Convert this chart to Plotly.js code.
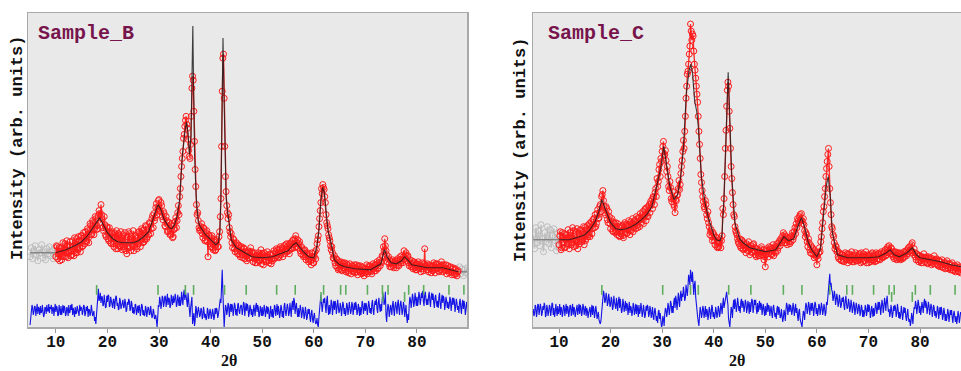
<!DOCTYPE html>
<html>
<head>
<meta charset="utf-8">
<script src="https://cdn.plot.ly/plotly-3.0.1.min.js"></script>
<style>html,body{margin:0;padding:0;background:#fff;}#chart{width:961px;height:371px;}</style>
</head>
<body>
<div id="chart"></div>
<script>
// ---------------- DATA (2θ in degrees, intensity in arbitrary units) ----------------
var obsStart = 10.0, obsStep = 0.25;     // observed scan (two interleaved halves, 2nd offset by half a step)
var diffStart = 5.0, diffStep = 0.25;    // difference curve (two interleaved halves)

// Sample_B observed intensity, 10.000 .. 88.000
var obsB = [
70,80,73,66, 79,71,77,83, 70,82,75,85, 76,86,71,82, 88,77,86,75, 91,81,89,95, 85,96,90,101, 93,104,98,108,
101,111,113,122, 108,96,102,90, 99,86,94,83, 93,80,90,96, 78,91,81,89, 92,78,87,73, 80,93,76,88, 96,82,89,78,
83,93,86,96, 97,87,100,90, 92,103,98,111, 113,109,123,118, 127,115,121,107, 113,100,106,96, 104,93,101,90,
98,109,106,121, 130,150,168,188, 200,210,198,176, 168,210,250,215, 157,122,114,99, 97,103,89,98, 87,96,70,91,
80,91,77,87, 77,87,80,95, 128,235,272,180, 135,114,112,95, 93,79,87,75, 84,73,81,70, 80,69,78,71, 66,76,69,79,
75,65,74,68, 64,74,67,77, 73,62,71,65, 75,66,72,63, 66,76,69,78, 77,69,80,74, 70,81,76,83, 81,73,84,78,
87,79,91,84, 79,85,73,78, 70,77,67,74, 65,73,62,70, 64,75,77,87, 100,116,138,142, 137,124,104,98, 89,81,80,69,
71,61,67,57, 58,65,56,63, 64,55,62,54, 63,53,61,56, 54,62,52,60, 61,53,59,51, 54,62,55,60, 61,53,63,56,
56,65,59,67, 65,71,80,88, 76,65,70,60, 60,67,59,66, 59,68,61,70, 71,64,76,72, 66,71,61,64, 66,58,64,57,
57,65,59,55, 64,56,78,61, 63,55,61,54, 56,64,54,62, 63,55,61,65, 55,62,57,53, 61,54,60,52, 59,52,58,51, 56
];
// Sample_B observed intensity, 10.125 .. 87.875
var obsB2 = [
81,68,79,75, 67,84,70,74, 86,69,80,71, 72,80,89,74, 74,90,79,91, 80,94,83,86, 98,84,103,92, 106,92,110,97,
98,116,104,112, 99,110,92,100, 88,99,84,95, 83,94,78,88, 93,80,95,77, 80,94,76,90, 95,79,90,82, 76,91,80,94,
95,80,98,84, 85,101,88,97, 104,93,108,99, 106,119,112,126, 116,124,110,115, 101,110,95,104, 92,102,89,97,
105,99,114,112, 138,160,175,192, 206,202,187,170, 182,238,246,185, 140,112,106,96, 100,93,99,86, 94,85,92,83,
89,79,85,76, 85,80,90,110, 180,268,228,150, 121,108,99,90, 84,88,78,82, 76,82,72,79, 72,79,68,75, 74,68,75,70,
69,73,64,71, 71,66,73,63, 67,74,66,72, 70,64,73,68, 73,68,75,71, 70,78,72,79, 78,73,82,75, 76,83,79,86,
82,88,80,87, 83,76,80,72, 76,70,73,68, 71,66,74,64, 70,68,83,91, 108,124,133,139, 130,112,101,92, 86,77,74,68,
64,68,59,65, 62,57,64,59, 57,63,56,60, 58,61,55,62, 59,55,61,56, 55,60,54,58, 58,53,61,57, 55,60,58,62,
62,58,64,61, 64,70,76,81, 72,68,63,66, 65,61,64,62, 66,62,67,64, 66,70,68,74, 70,64,67,60, 60,65,59,63,
63,58,62,60, 58,63,60,57, 57,62,58,61, 61,57,63,58, 56,60,57,62, 60,56,62,58, 56,59,55,58, 54,57,53,55
];
// Sample_B excluded-region points
var exclB_x = [5,5.25,5.5,5.75,6,6.25,6.5,6.75,7,7.25,7.5,7.75,8,8.25,8.5,8.75,9,9.25,9.5,9.75, 88.25,88.5,88.75,89,89.25,89.5,89.75];
var exclB_y = [70,79,68,76,81,72,66,77,74,82,69,75,67,78,73,80,71,76,68,79, 60,53,58,51,57,54,59];
// Sample_B calculated profile
var calcB_x = [10,12,14,15,16,17,18,18.5,19,20,21,22,23,25,26,27,28,29,29.8,30.3,31,32,32.5,33,33.5,34,34.5,35,35.3,35.6,35.9,36.2,36.4,36.55,36.7,36.9,37.2,37.6,38,39,40,41,41.5,41.8,42,42.2,42.4,42.6,42.8,43,43.3,43.7,44,45,46,48,50,52,53,54,55,56,56.6,57.2,58,59,60,60.6,61,61.4,61.7,62,62.4,62.8,63.3,64,65,66,68,70,71,72,73,73.7,74.2,75,76,77,77.6,78.2,79,80,82,85,88];
var calcB_y = [74,77,82,85,90,97,105,109,104,94,88,85,84,84,86,90,95,110,122,118,107,99,98,102,110,127,170,194,204,195,172,190,260,300,240,170,130,105,100,92,87,82,84,95,130,220,288,230,160,130,115,100,87,79,76,70,69,70,72,74,76,82,84,80,75,70,69,80,97,127,139,135,115,95,85,67,62,60,58,57,57,60,63,77,70,64,63,66,70,67,62,61,59,59,55];
var calcBex_x = [[5,10],[88,89.7]];
var calcBex_y = [[74,74],[55,55]];
// Sample_B difference curve, 5.000 .. 89.750
var diffB = [
2,14,19,15, 20,16,13,18, 21,15,17,12, 19,22,16,14, 18,13,20,16, 15,19,12,17, 21,16,14,19, 13,18,22,15,
17,12,16,20, 14,18,11,16, 19,15,21,13, 16,10,17,14, 18,13,6,3, 26,38,28,24, 30,22,27,20, 25,31,21,26,
19,28,23,30, 24,18,26,21, 27,20,24,17, 22,26,18,23, 20,15,22,17, 14,19,16,21, 17,12,18,15, 19,13,16,11,
15,9,3,10, 20,26,23,29, 24,30,26,22, 28,21,25,31, 26,29,23,27, 30,24,28,33, 27,31,20,26, 10,24,3,14,
6,18,13,16, 12,17,10,15, 13,9,16,12, 15,11,14,10, 13,17,12,22, 24,57,1,12, 20,16,22,18, 15,20,17,21,
18,22,16,19, 21,17,23,18, 16,20,14,19, 18,13,17,21, 15,19,12,17, 20,14,18,16, 13,17,11,15, 18,14,20,16,
12,17,14,19, 16,21,15,18, 19,14,17,22, 17,26,20,16, 19,15,18,13, 16,12,15,10, 13,9,14,8, 11,7,4,2,
10,27,24,21, 24,20,26,19, 22,18,24,20, 17,23,19,21, 16,20,18,22, 19,15,21,17, 20,16,22,18, 17,21,15,19,
20,17,23,18, 16,20,18,22, 19,23,17,21, 22,18,24,20, 23,27,30,25, 12,16,20,15, 18,22,17,21, 19,23,18,22,
20,17,21,16, 10,13,22,27, 25,29,24,28, 30,26,31,27, 29,25,32,27, 28,31,26,30, 27,24,29,25, 26,30,23,27,
24,28,22,26, 25,21,27,23, 22,26,20,24, 21,25,19,23, 18,22,17,21
];
// Sample_B difference curve, 5.125 .. 89.875
var diffB2 = [
10,22,12,21, 11,23,20,12, 14,22,10,20, 13,16,23,20, 22,19,11,23, 21,11,22,12, 12,22,21,11, 20,11,14,22,
23,19,10,13, 21,12,22,20, 12,22,11,20, 21,18,11,22, 11,16,10,12, 33,26,34,30, 21,32,19,31, 32,20,30,19,
27,18,31,21, 17,29,18,27, 19,28,15,25, 28,16,26,14, 13,23,12,21, 22,11,23,12, 11,21,10,20, 12,21,9,18,
8,12,0,22, 30,18,31,20, 31,20,33,29, 19,32,22,24, 33,20,32,21, 21,35,22,37, 35,22,34,18, 19,30,8,1,
21,9,20,10, 19,8,20,9, 7,19,8,18, 8,18,7,19, 19,9,20,28, 40,35,0,22, 12,24,10,23, 23,11,24,12,
11,24,13,22, 12,25,11,24, 23,10,22,12, 10,22,11,24, 22,10,21,11, 11,22,10,21, 20,8,21,10, 9,22,11,23,
21,9,22,10, 9,24,11,23, 11,24,10,26, 29,13,24,10, 10,22,9,20, 8,20,7,18, 18,5,17,4, 14,3,9,0,
21,32,15,28, 29,14,31,12, 13,27,12,26, 26,13,27,14, 24,11,25,13, 11,24,12,25, 13,25,12,24, 25,12,23,11,
12,26,13,24, 24,12,26,14, 13,27,12,26, 28,14,29,15, 16,33,22,35, 5,23,10,22, 12,26,11,25, 13,27,12,26,
12,25,10,22, 4,7,30,19, 33,20,34,21, 21,35,22,34, 36,21,35,22, 22,35,20,34, 33,19,32,20, 19,34,18,32,
31,17,30,19, 18,30,16,29, 29,15,28,17, 14,28,13,27, 26,12,25,13
];
// Sample_B reflection markers
var reflB1 = [17.9,29.8,35.1,36.7,42.7,46.9,52.8,56.4,61.9,65.2,66.2,70.4,73.3,74.4,78.4,81.3,86.2,89.1];
var reflB2 = [61.4,73.4,77.6];

// Sample_C observed intensity, 10.000 .. 88.000
var obsC = [
82,95,79,90, 93,80,88,97, 78,91,84,96, 92,81,98,85, 83,96,87,100, 99,88,101,92, 90,105,98,108, 112,103,117,109,
122,130,136,120, 112,118,104,110, 98,108,95,103, 104,92,100,90, 93,101,89,104, 102,94,106,92, 96,108,99,105,
110,99,108,113, 104,115,110,118, 119,110,122,125, 127,130,122,138, 148,145,162,168, 175,185,172,166, 160,140,145,128,
135,122,114,126, 132,146,142,160, 175,178,210,240, 255,272,302,286, 290,262,248,232, 210,182,152,136, 125,118,122,108,
104,92,97,86, 92,82,89,79, 80,88,86,118, 128,178,220,244, 215,178,148,122, 110,96,92,85, 88,79,86,77, 82,74,80,85,
72,81,75,83, 79,70,77,73, 71,80,74,67, 60,78,73,80, 79,72,82,75, 74,83,79,86, 88,84,94,92, 90,82,88,83,
85,94,90,99, 103,108,104,112, 113,103,102,90, 92,80,84,74, 73,78,69,74, 62,68,79,85, 98,115,130,150, 165,178,138,112,
98,90,78,80, 76,68,73,66, 72,65,74,67, 64,73,67,75, 71,65,74,68, 66,73,64,71, 73,66,75,68, 64,72,67,74,
71,65,74,68, 73,67,75,69, 70,77,72,80, 81,73,78,70, 68,75,67,73, 74,67,72,69, 70,76,73,79, 80,76,84,72,
74,67,72,65, 71,64,68,73, 65,70,63,68, 69,62,66,71, 63,68,61,66, 62,67,59,64, 61,66,58,63, 59,64,56,61, 58,62,55,60, 57
];
// Sample_C observed intensity, 10.125 .. 87.875
var obsC2 = [
91,77,94,84, 79,92,83,89, 94,82,99,80, 86,95,78,93, 97,85,94,82, 86,97,90,103, 102,93,107,99, 100,113,108,120,
115,132,126,114, 120,107,115,103, 106,96,104,94, 95,103,91,99, 100,91,102,94, 93,101,96,105, 103,95,106,98,
101,109,100,107, 112,103,117,106, 111,120,114,123, 118,129,134,130, 140,157,150,165, 180,171,176,155, 150,136,139,125,
128,120,127,131, 138,137,153,166, 186,195,228,252, 262,280,295,292, 275,256,240,224, 195,168,144,130, 120,126,112,115,
100,95,90,94, 86,90,80,84, 84,79,91,112, 150,196,236,240, 198,160,134,112, 100,94,88,83, 81,87,78,84, 78,83,76,79,
79,74,82,76, 72,78,71,76, 78,72,77,70, 72,76,70,77, 73,78,71,80, 80,76,84,81, 86,91,87,84, 84,89,85,90,
91,87,95,93, 99,106,110,107, 106,108,96,94, 85,88,77,81, 79,72,76,70, 71,74,75,90, 104,120,138,158, 172,160,124,100,
92,84,81,75, 70,74,67,72, 66,71,68,73, 72,66,70,65, 67,72,66,70, 72,67,74,65, 66,71,64,72, 70,65,73,66,
67,72,66,73, 68,73,70,74, 75,71,78,74, 76,79,72,75, 73,69,74,68, 69,73,68,75, 74,71,77,75, 77,82,74,78,
70,73,67,71, 66,70,64,69, 69,64,70,65, 64,68,63,67, 67,62,66,60, 65,60,63,58, 64,59,62,57, 62,57,60,55, 60,56,59,54
];
var exclC_x = [5,5.25,5.5,5.75,6,6.25,6.5,6.75,7,7.25,7.5,7.75,8,8.25,8.5,8.75,9,9.25,9.5,9.75];
var exclC_y = [92,78,99,84,96,81,102,88,75,94,85,100,83,97,79,91,98,86,76,93];
var calcC_x = [10,12,14,15,16,17,17.7,18.3,19,20,21,22,23,24,25,26,27,28,29,29.8,30.3,30.8,31.5,32.3,33,33.6,34.1,34.7,35.2,35.55,35.9,36.3,36.7,37,37.3,37.6,38.3,39,40,40.5,41.2,41.6,42,42.4,42.8,43.1,43.5,44.1,45,45.7,47,50,52,53,53.6,54.5,55.5,56.3,57,57.6,58.3,59,60,60.7,61.3,61.8,62.2,62.6,63,63.5,64,66,70,72,73.5,74.2,75,76,77.5,78.5,79.3,80,82,84,86,88];
var calcC_y = [87,87,90,92,97,105,115,127,117,104,98,97,98,100,103,107,112,120,142,160,180,162,140,127,132,150,177,234,255,262,252,225,215,200,170,150,124,108,92,87,86,92,130,200,254,210,150,104,88,84,79,75,77,85,90,86,88,100,109,100,85,77,70,78,110,140,150,130,94,82,72,69,69,70,74,77,72,70,74,79,72,69,67,65,62,60];
var calcCex_x = [5,10];
var calcCex_y = [87,87];
// Sample_C difference curve, 5.000 .. 87.750
var diffC = [
18,13,20,15, 22,16,19,14, 17,21,12,18, 15,20,16,23, 19,14,17,21, 16,12,18,14, 20,17,13,19, 15,21,16,12,
18,14,22,17, 13,19,15,20, 17,11,16,14, 20,15,12,18, 14,16,11,7, 3,12,28,32, 26,30,24,28, 22,27,20,25,
18,23,26,19, 21,17,24,20, 16,22,18,14, 19,15,21,17, 13,18,22,16, 19,14,17,12, 16,20,13,17, 14,10,16,12,
11,15,8,6, 2,8,13,17, 15,20,18,23, 21,25,19,27, 24,28,31,26, 30,34,29,37, 40,48,57,45, 38,42,30,18,
5,12,16,13, 18,14,10,16, 12,17,13,19, 15,11,16,13, 18,14,20,23, 19,28,35,22, 2,10,17,21, 18,23,20,24,
21,25,19,23, 20,24,18,22, 25,21,26,19, 22,18,24,20, 17,22,19,16, 21,18,15,20, 17,13,19,15, 14,18,12,16,
10,13,9,14, 17,21,18,15, 19,16,20,17, 14,11,15,8, 3,9,14,18, 21,17,22,19, 16,20,18,23, 19,15,21,17,
20,16,19,14, 22,40,53,44, 35,29,32,26, 28,24,27,22, 25,21,26,23, 20,24,19,22, 18,22,17,21, 16,20,15,19,
17,14,19,16, 15,18,13,17, 19,16,21,18, 17,21,19,23, 20,24,26,22, 18,14,17,13, 16,19,14,18, 15,12,16,13,
14,10,13,9, 8,5,10,14, 18,22,19,23, 21,17,20,24, 19,22,18,21, 17,20,15,19, 16,13,18,14, 12,16,11,15,
13,10,14,11, 12,9,13,10, 11,8,12,9
];
// Sample_C difference curve, 5.125 .. 87.875
var diffC2 = [
11,22,10,23, 12,23,11,21, 24,10,22,11, 22,11,24,12, 10,23,11,13, 23,20,10,22, 11,23,21,10, 22,11,23,20,
10,21,12,23, 22,11,23,12, 21,19,9,20, 10,22,21,9, 21,8,15,4, 6,21,36,24, 34,21,33,20, 30,17,31,18,
29,16,30,28, 14,28,15,26, 24,12,25,21, 11,24,12,23, 22,10,13,24, 10,22,9,21, 22,10,21,9, 20,7,19,6,
4,17,14,0, 11,1,19,10, 24,12,26,14, 14,29,31,17, 34,20,36,33, 40,26,42,31, 52,42,50,55, 32,46,21,10,
1,20,9,21, 9,21,18,7, 20,8,22,10, 8,20,9,21, 10,24,13,29, 24,32,28,8, 0,20,9,27, 28,15,29,16,
14,28,26,15, 27,14,26,13, 15,28,14,27, 27,13,15,26, 24,12,23,11, 12,24,22,11, 21,9,22,10, 8,21,20,9,
18,5,17,6, 24,12,23,22, 12,24,11,23, 19,6,18,4, 0,16,7,24, 13,25,12,24, 24,11,25,13, 11,23,12,24,
12,23,11,25, 30,50,40,37, 26,36,22,33, 20,32,19,29, 30,17,31,18, 28,15,27,14, 25,12,24,13, 23,11,22,10,
10,22,11,23, 22,9,21,10, 11,24,13,25, 25,12,27,14, 29,16,31,15, 10,22,9,21, 22,10,23,9, 8,21,7,20,
19,6,18,5, 1,14,3,20, 26,13,27,14, 12,25,14,28, 26,13,25,12, 23,10,22,11, 9,21,8,20, 20,7,19,6,
6,18,5,17, 17,4,16,5, 3,16,4,15
];
var reflC1 = [18.3,30.1,35.5,37.0,42.9,47.2,53.5,57.1,62.5,65.8,66.9,71.0,74.0,75.0,79.1,82.0,86.8];
var reflC2 = [74.5,78.5];

var reflRow1 = 37, reflRow2 = 30;   // marker row levels (intensity units)
var xTicks = [10,20,30,40,50,60,70,80];

// ---------------- BUILD ----------------
function interleave(start, step, a, b){
  var x=[], y=[];
  for (var i=0;i<a.length;i++){
    x.push(+(start+i*step).toFixed(4)); y.push(a[i]);
    if (i<b.length){ x.push(+(start+i*step+step/2).toFixed(4)); y.push(b[i]); }
  }
  return {x:x, y:y};
}
function breakGaps(xs, ys){   // insert a gap where the excluded regions are not adjacent
  var x=[], y=[];
  for (var i=0;i<xs.length;i++){
    if (i>0 && xs[i]-xs[i-1] > 1){ x.push(null); y.push(null); }
    x.push(xs[i]); y.push(ys[i]);
  }
  return {x:x, y:y};
}
function fill(arr, v){ return arr.map(function(){return v;}); }

var RED='#ff1a1a', BLUE='#1414e6', GREEN='#5fae5f';

function panel(xa, ya, obs, obs2, exX, exY, cX, cY, cexX, cexY, diff, diff2, r1, r2){
  var t = [];
  var ex = breakGaps(exX, exY);
  t.push({x:ex.x, y:ex.y, xaxis:xa, yaxis:ya, mode:'lines+markers', type:'scatter', connectgaps:false,
    line:{color:'rgba(185,185,185,0.85)', width:1.2},
    marker:{symbol:'circle-open', size:6, color:'#bdbdbd', line:{width:1}}, hoverinfo:'skip'});
  cexX.forEach(function(xx,i){
    t.push({x:xx, y:cexY[i], xaxis:xa, yaxis:ya, mode:'lines', type:'scatter',
      line:{color:'#7a7a7a', width:1.2}, hoverinfo:'skip'});
  });
  var o = interleave(obsStart, obsStep, obs, obs2);
  t.push({x:o.x, y:o.y, xaxis:xa, yaxis:ya, mode:'lines+markers', type:'scatter',
    line:{color:'rgba(255,20,20,0.9)', width:1.3},
    marker:{symbol:'circle-open', size:6, color:RED, line:{width:1}}, hoverinfo:'skip'});
  t.push({x:cX, y:cY, xaxis:xa, yaxis:ya, mode:'lines', type:'scatter',
    line:{color:'rgba(30,30,30,0.85)', width:1.1}, hoverinfo:'skip'});
  var d = interleave(diffStart, diffStep, diff, diff2);
  t.push({x:d.x, y:d.y, xaxis:xa, yaxis:ya, mode:'lines', type:'scatter',
    line:{color:BLUE, width:1.1}, hoverinfo:'skip'});
  t.push({x:r1, y:fill(r1, reflRow1), xaxis:xa, yaxis:ya, mode:'markers', type:'scatter',
    marker:{symbol:'line-ns-open', size:7, color:GREEN, line:{width:1.6, color:GREEN}}, hoverinfo:'skip'});
  t.push({x:r2, y:fill(r2, reflRow2), xaxis:xa, yaxis:ya, mode:'markers', type:'scatter',
    marker:{symbol:'line-ns-open', size:7, color:GREEN, line:{width:1.6, color:GREEN}}, hoverinfo:'skip'});
  return t;
}

var traces = panel('x','y', obsB, obsB2, exclB_x, exclB_y, calcB_x, calcB_y, calcBex_x, calcBex_y, diffB, diffB2, reflB1, reflB2)
  .concat(panel('x2','y2', obsC, obsC2, exclC_x, exclC_y, calcC_x, calcC_y, [calcCex_x], [calcCex_y], diffC, diffC2, reflC1, reflC2));

var W=961, H=371;
var tickFont = {family:'Liberation Mono, Courier New, monospace', size:16, color:'#111', weight:'bold'};
function xax(dom, rng, mir){
  return {domain:dom, range:rng, tickvals:xTicks, ticks:'outside', ticklen:4, tickwidth:1, tickcolor:'#9a9a9a',
    ticklabelstandoff:-5,
    showline:true, linecolor:'#a9a9a9', linewidth:1.5, mirror:mir, showgrid:false, zeroline:false,
    tickfont:tickFont, fixedrange:true};
}
function yax(anchor, mir){
  return {domain:[44/H, 358/H], range:[0,313], anchor:anchor, showticklabels:false, ticks:'',
    showline:true, linecolor:'#a9a9a9', linewidth:1.5, mirror:mir, showgrid:false, zeroline:false, fixedrange:true};
}
var xa1 = xax([28/W, 467/W], [4.6, 89.7], true);
var xa2 = xax([533/W, 1], [4.95, 87.95], true); xa2.anchor='y2';
var ya1 = yax('x', true);
var ya2 = yax('x2', false);

var titleFont = {family:'Liberation Mono, Courier New, monospace', size:20, color:'#78144c', weight:'bold'};
var yFont = {family:'Liberation Mono, Courier New, monospace', size:17, color:'#111', weight:'bold'};
var xFont = {family:'Liberation Serif, DejaVu Serif, serif', size:16, color:'#111', weight:'bold'};

var layout = {
  width:W, height:H, margin:{l:0,r:0,t:0,b:0}, paper_bgcolor:'#ffffff', plot_bgcolor:'#e9e9e9',
  showlegend:false, xaxis:xa1, yaxis:ya1, xaxis2:xa2, yaxis2:ya2,
  annotations:[
    {text:'Sample_B', xref:'paper', yref:'paper', x:36/W, y:(H-33)/H, xanchor:'left', yanchor:'middle', showarrow:false, font:titleFont},
    {text:'Sample_C', xref:'paper', yref:'paper', x:546/W, y:(H-33)/H, xanchor:'left', yanchor:'middle', showarrow:false, font:titleFont},
    {text:'Intensity (arb. units)', xref:'paper', yref:'paper', x:18/W, y:(H-148)/H, xanchor:'center', yanchor:'middle', textangle:-90, showarrow:false, font:yFont},
    {text:'Intensity (arb. units)', xref:'paper', yref:'paper', x:520/W, y:(H-150)/H, xanchor:'center', yanchor:'middle', textangle:-90, showarrow:false, font:yFont},
    {text:'2θ', xref:'paper', yref:'paper', x:229/W, y:0, xanchor:'center', yanchor:'bottom', showarrow:false, font:xFont},
    {text:'2θ', xref:'paper', yref:'paper', x:737/W, y:0, xanchor:'center', yanchor:'bottom', showarrow:false, font:xFont}
  ]
};

Plotly.newPlot('chart', traces, layout, {staticPlot:true, displayModeBar:false});
</script>
</body>
</html>
